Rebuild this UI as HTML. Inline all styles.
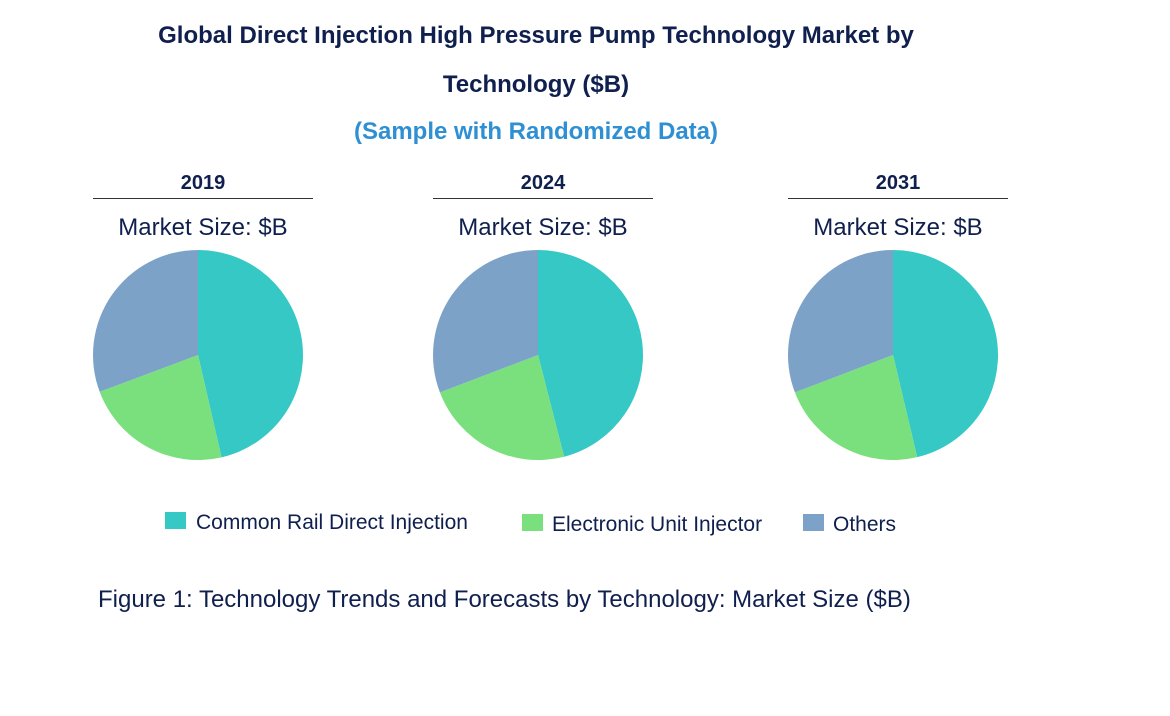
<!DOCTYPE html>
<html><head><meta charset="utf-8"><style>
body{margin:0;background:#fff;}
svg text{font-family:"Liberation Sans",Arial,sans-serif;}
</style></head><body>
<svg width="1170" height="711" viewBox="0 0 1170 711">
<text x="536" y="43" text-anchor="middle" font-size="24" font-weight="bold" fill="#0F1F4E">Global Direct Injection High Pressure Pump Technology Market by</text>
<text x="536" y="92" text-anchor="middle" font-size="24" font-weight="bold" fill="#0F1F4E">Technology ($B)</text>
<text x="536" y="139" text-anchor="middle" font-size="24" font-weight="bold" fill="#2E90D3">(Sample with Randomized Data)</text>
<g id="pies"></g>
<g>
<rect x="165" y="512" width="21" height="17" fill="#36C8C5"/>
<text x="196" y="529" font-size="21" fill="#0F1F4E">Common Rail Direct Injection</text>
<rect x="522" y="514" width="21" height="17" fill="#7AE07E"/>
<text x="552" y="531" font-size="21" fill="#0F1F4E">Electronic Unit Injector</text>
<rect x="803" y="514" width="21" height="17" fill="#7DA2C8"/>
<text x="833" y="531" font-size="21" fill="#0F1F4E">Others</text>
</g>
<text x="98" y="607" font-size="24" fill="#0F1F4E">Figure 1: Technology Trends and Forecasts by Technology: Market Size ($B)</text>
</svg>
<script>
const years = ["2019","2024","2031"];
const commonRail = [46.4, 46.0, 46.3];
const electronicUnit = [22.9, 23.2, 22.9];
const others = [30.7, 30.8, 30.8];
const colors = ["#36C8C5","#7AE07E","#7DA2C8"];
const seriesNames = ["common-rail","electronic-unit","others"];
const centersX = [198, 538, 893];
const cy = 355, r = 105;
const ns = "http://www.w3.org/2000/svg";
const g = document.getElementById('pies');
function pt(cx, a){ return [cx + r*Math.sin(a), cy - r*Math.cos(a)]; }
years.forEach((y,i)=>{
  const cx = centersX[i];
  const t = document.createElementNS(ns,'text');
  
  
  t.setAttribute('x', cx+5); t.setAttribute('y', 189);
  t.setAttribute('text-anchor','middle'); t.setAttribute('font-size','20');
  t.setAttribute('font-weight','bold'); t.setAttribute('fill','#0F1F4E');
  t.textContent = y; g.appendChild(t);
  const ln = document.createElementNS(ns,'line');
  
  
  ln.setAttribute('x1', cx-105); ln.setAttribute('x2', cx+115);
  ln.setAttribute('y1', 198.5); ln.setAttribute('y2', 198.5);
  ln.setAttribute('stroke','#333'); ln.setAttribute('stroke-width','1');
  g.appendChild(ln);
  const m = document.createElementNS(ns,'text');
  
  
  m.setAttribute('x', cx+5); m.setAttribute('y', 235);
  m.setAttribute('text-anchor','middle'); m.setAttribute('font-size','24');
  m.setAttribute('fill','#0F1F4E');
  m.textContent = 'Market Size: $B'; g.appendChild(m);
  const vals = [commonRail[i], electronicUnit[i], others[i]];
  const tot = vals.reduce((a,b)=>a+b,0);
  let a0 = 0;
  vals.forEach((v,k)=>{
    const a1 = a0 + v/tot*2*Math.PI;
    const [x0,y0]=pt(cx,a0), [x1,y1]=pt(cx,a1);
    const p = document.createElementNS(ns,'path');
    
    
    p.setAttribute('d', `M${cx},${cy} L${x0},${y0} A${r},${r} 0 ${a1-a0>Math.PI?1:0} 1 ${x1},${y1} Z`);
    p.setAttribute('fill', colors[k]);
    g.appendChild(p);
    a0 = a1;
  });
});
</script>
</body></html>
